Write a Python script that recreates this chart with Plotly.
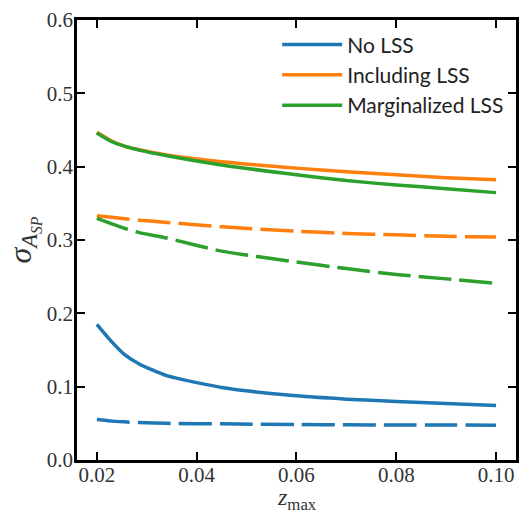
import plotly.graph_objects as go

z = [0.02, 0.023, 0.0255, 0.0285, 0.034, 0.045, 0.06, 0.07, 0.08, 0.09, 0.10]

no_lss_solid = [0.185, 0.161, 0.144, 0.131, 0.115, 0.099, 0.0875, 0.083, 0.0798, 0.077, 0.0744]
no_lss_dash = [0.0552, 0.053, 0.052, 0.051, 0.050, 0.0493, 0.0484, 0.048, 0.0478, 0.0476, 0.0475]
inc_lss_solid = [0.447, 0.435, 0.428, 0.423, 0.416, 0.4067, 0.398, 0.393, 0.389, 0.385, 0.382]
inc_lss_dash = [0.333, 0.331, 0.329, 0.327, 0.324, 0.318, 0.312, 0.309, 0.307, 0.305, 0.304]
marg_lss_solid = [0.446, 0.434, 0.428, 0.4225, 0.4148, 0.4023, 0.389, 0.381, 0.375, 0.370, 0.3646]
marg_lss_dash = [0.3296, 0.322, 0.316, 0.310, 0.3027, 0.2848, 0.270, 0.261, 0.253, 0.247, 0.241]

names = ["No LSS", "Including LSS", "Marginalized LSS"]
colors = ["#1f77b4", "#ff7f0e", "#2ca02c"]

fig = go.Figure()
solids = [no_lss_solid, inc_lss_solid, marg_lss_solid]
dashes = [no_lss_dash, inc_lss_dash, marg_lss_dash]
for name, col, ys in zip(names, colors, solids):
    fig.add_trace(go.Scatter(x=z, y=ys, mode="lines", name=name,
                             line=dict(color=col, width=3.5, shape="spline", smoothing=0.6)))
for name, col, ys in zip(names, colors, dashes):
    fig.add_trace(go.Scatter(x=z, y=ys, mode="lines", name=name, showlegend=False,
                             line=dict(color=col, width=3.5, dash="33px,8px",
                                       shape="spline", smoothing=0.6)))

serif = "Liberation Serif, serif"
axis_common = dict(
    showline=True, linecolor="black", linewidth=2.5, mirror="ticks",
    ticks="inside", ticklen=8, tickwidth=2, tickcolor="black",
    showgrid=False, zeroline=False,
    tickfont=dict(family=serif, size=21, color="#333333"),
)

fig.update_layout(
    width=527, height=514,
    margin=dict(l=77, r=8, t=14, b=54),
    paper_bgcolor="white", plot_bgcolor="white",
    xaxis=dict(range=[0.01602, 0.104], tickvals=[0.02, 0.04, 0.06, 0.08, 0.10],
               tickformat=".2f", ticklabelstandoff=-6, **axis_common),
    yaxis=dict(range=[0, 0.6], tickvals=[0, 0.1, 0.2, 0.3, 0.4, 0.5, 0.6],
               tickformat=".1f", ticklabelstandoff=-3, **axis_common),
    legend=dict(x=0.456, y=0.99, xanchor="left", yanchor="top",
                bgcolor="rgba(0,0,0,0)",
                font=dict(family="Lato, Liberation Sans, sans-serif", size=21, color="#222222"),
                itemwidth=60, tracegroupgap=4),
    showlegend=True,
    annotations=[
        dict(text="<i>z</i><sub>max</sub>", xref="paper", yref="paper",
             x=0.5, y=-0.089, xanchor="center", yanchor="middle", showarrow=False,
             font=dict(family=serif, size=24, color="#333333")),
        dict(text="<i>σ</i><sub><i>A</i><sub><i>SP</i></sub></sub>", xref="paper", yref="paper",
             x=-0.124, y=0.5, xanchor="center", yanchor="middle", showarrow=False,
             textangle=-90, font=dict(family=serif, size=32, color="#333333")),
    ],
)

fig.write_html("out.html", config={"displayModeBar": False},
               post_script="document.body.style.margin='0px';")
